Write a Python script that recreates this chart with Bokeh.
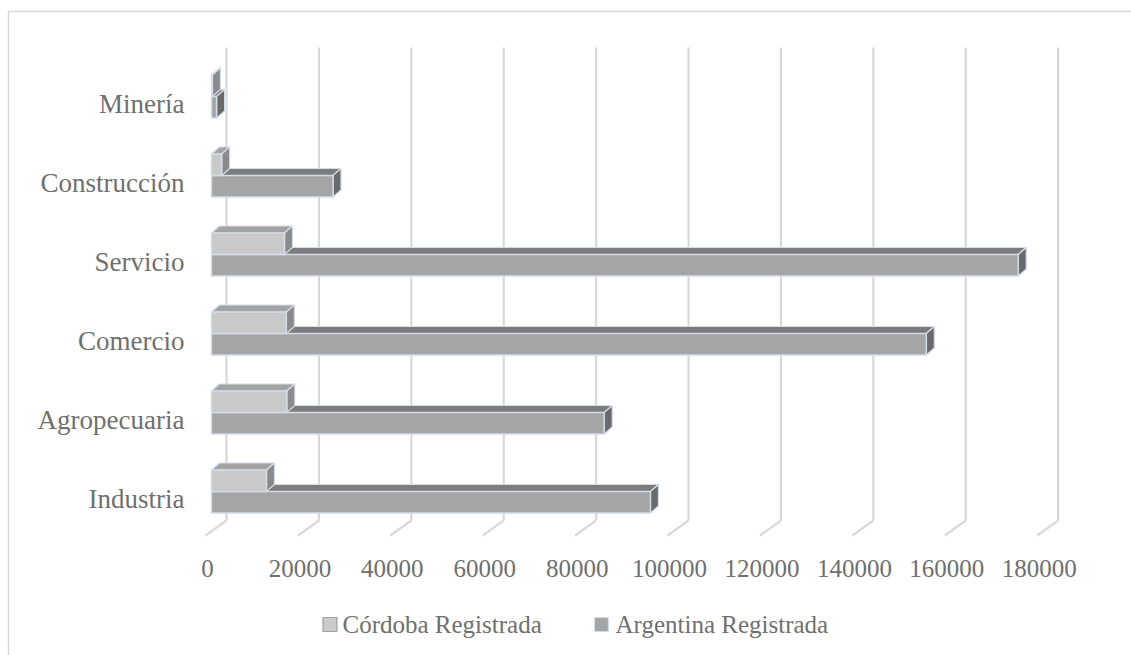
from bokeh.plotting import figure
from bokeh.models import Range1d
from bokeh.core.properties import value
from bokeh.embed import file_html
from bokeh.resources import INLINE

# ---- data -------------------------------------------------------------
categories = ["Industria", "Agropecuaria", "Comercio", "Servicio", "Construcción", "Minería"]
cordoba = [11900, 16300, 16200, 15800, 2200, 200]
argentina = [95000, 85000, 154700, 174600, 26300, 1100]
tick_values = [0, 20000, 40000, 60000, 80000, 100000, 120000, 140000, 160000, 180000]
tick_labels = [str(t) for t in tick_values]
series_names = ["Córdoba Registrada", "Argentina Registrada"]

# ---- geometry of the oblique 3-D view ---------------------------------
W, H = 1131, 655
PPU = 831.7 / 180000.0      # pixels per unit along the value axis
X0 = 211.0                  # pixel column of value 0 on the bars' front face
B0 = 491.0                  # pixel row of the first category's series boundary
PITCH = 79.0                # pixels between categories


def xd(px):
    return (px - X0) / PPU


def yd(py):
    return (B0 - py) / PITCH


DX = 8 / PPU                # bar depth, horizontal shift
DY = 7 / PITCH              # bar depth, vertical shift
BAR_H = 21.5 / PITCH        # bar thickness
BACK = 15 / PPU             # back wall offset from bar front
FLOOR = 21 / PPU            # floor depth

p = figure(width=W, height=H, output_backend="svg", toolbar_location=None,
           x_range=Range1d(xd(0), xd(W)), y_range=Range1d(yd(H), yd(0)),
           min_border=0, x_axis_location=None, y_axis_location=None)
p.outline_line_color = None
p.grid.visible = False
p.background_fill_color = "white"
p.border_fill_color = "white"

FONT = value("Liberation Serif")
TXT = "#6f6f6f"

# chart border (top and left edges)
p.line([xd(8), xd(8), xd(W + 5)], [yd(H + 5), yd(11), yd(11)],
       line_color="#d9d9d9", line_width=1.5)

# back-wall gridlines and floor lines
p.segment(x0=[t + BACK for t in tick_values], y0=[yd(520)] * len(tick_values),
          x1=[t + BACK for t in tick_values], y1=[yd(47)] * len(tick_values),
          line_color="#d9d9d9", line_width=2.2)
p.segment(x0=[t + BACK for t in tick_values], y0=[yd(520)] * len(tick_values),
          x1=[t + BACK - FLOOR for t in tick_values], y1=[yd(535)] * len(tick_values),
          line_color="#d9d9d9", line_width=2.2)


def prism_faces(values, offset):
    """Front, top and side polygons of each horizontal bar."""
    front_x, front_y, top_x, top_y, side_x, side_y = [], [], [], [], [], []
    for i, v in enumerate(values):
        yb = i + offset
        yt = yb + BAR_H
        front_x.append([0, v, v, 0])
        front_y.append([yb, yb, yt, yt])
        top_x.append([0, v, v + DX, DX])
        top_y.append([yt, yt, yt + DY, yt + DY])
        side_x.append([v, v + DX, v + DX, v])
        side_y.append([yt, yt + DY, yb + DY, yb])
    return (front_x, front_y), (top_x, top_y), (side_x, side_y)


EDGE = "#d3dcea"


def draw_series(values, offset, front_c, top_c, side_c):
    front, top, side = prism_faces(values, offset)
    p.patches(top[0], top[1], fill_color=top_c, line_color=EDGE, line_width=1.2)
    p.patches(side[0], side[1], fill_color=side_c, line_color=EDGE, line_width=1.2)
    p.patches(front[0], front[1], fill_color=front_c, line_color=EDGE, line_width=1.5)


# Argentina sits below the series boundary, Córdoba above it
draw_series(argentina, -BAR_H, "#a5a5a5", "#7c7c7c", "#6a6a6a")
draw_series(cordoba, 0.0, "#c9c9c9", "#a3a3a3", "#8a8a8a")

# value-axis labels
p.text(x=tick_values, y=[yd(568)] * len(tick_values), text=tick_labels,
       text_font=FONT, text_font_size="25px", text_color=TXT,
       text_align="center", text_baseline="alphabetic", x_offset=-4)

# category labels
p.text(x=[xd(184)] * len(categories), y=[i - 7 / PITCH for i in range(len(categories))],
       text=categories, text_font=FONT, text_font_size="27px", text_color=TXT,
       text_align="right", text_baseline="alphabetic")

# legend
p.scatter(x=[xd(329.5), xd(601)], y=[yd(624), yd(624)], marker="square", size=14,
          fill_color=["#cbcbcb", "#a5a5a5"], line_color=["#a0a0a0", EDGE], line_width=1.2)
p.text(x=[xd(342), xd(615)], y=[yd(624), yd(624)], text=series_names,
       text_font=FONT, text_font_size="25px", text_color=TXT,
       text_align="left", text_baseline="alphabetic")

open("out.html", "w").write(file_html(p, INLINE))
